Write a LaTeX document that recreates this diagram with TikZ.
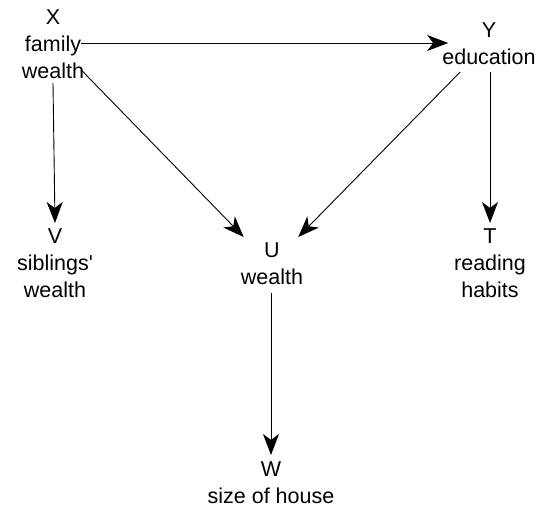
\documentclass[tikz,border=0pt]{standalone}
\usepackage{fontspec}
\setmainfont{Liberation Sans}[Ligatures=TeXOff]
\usetikzlibrary{arrows.meta,calc}
\tikzset{
  var/.style={anchor=north, inner sep=0pt, align=center,
    font=\fontsize{21.5}{27}\selectfont},
  arr/.style={draw=black, line width=0.9pt,
    -{Stealth[length=21pt, width=16pt, inset=6pt]}}
}
\begin{document}
\begin{tikzpicture}[x=1pt, y=-1pt]
  \useasboundingbox (0,0) rectangle (538,508);
  % variables
  \node[var] (X) at (53,10)  {X\\family\\wealth};
  \node[var] (Y) at (489,23) {Y\\education};
  \node[var] (V) at (55,229) {V\\siblings'\\wealth};
  \node[var] (U) at (272,243) {U\\wealth};
  \node[var] (T) at (490,229) {T\\reading\\habits};
  \node[var] (W) at (271,462) {W\\size of house};
  % causal links
  \draw[arr] ($(X.north east)+(-3,33)$) -- ($(Y.north west)+(6,20)$);
  \draw[arr] ($(X.north)+(0,73)$) -- ($(V.north)+(0,-6)$);
  \draw[arr] ($(X.north east)+(-3,60)$) -- ($(U.north west)+(3,-6)$);
  \draw[arr] ($(Y.north west)+(18,49)$) -- ($(U.north east)+(-5,-6)$);
  \draw[arr] ($(Y.north)+(1,49)$) -- ($(T.north)+(0,-6)$);
  \draw[arr] ($(U.north)+(-1,50)$) -- ($(W.north)+(0,-7)$);
\end{tikzpicture}
\end{document}
